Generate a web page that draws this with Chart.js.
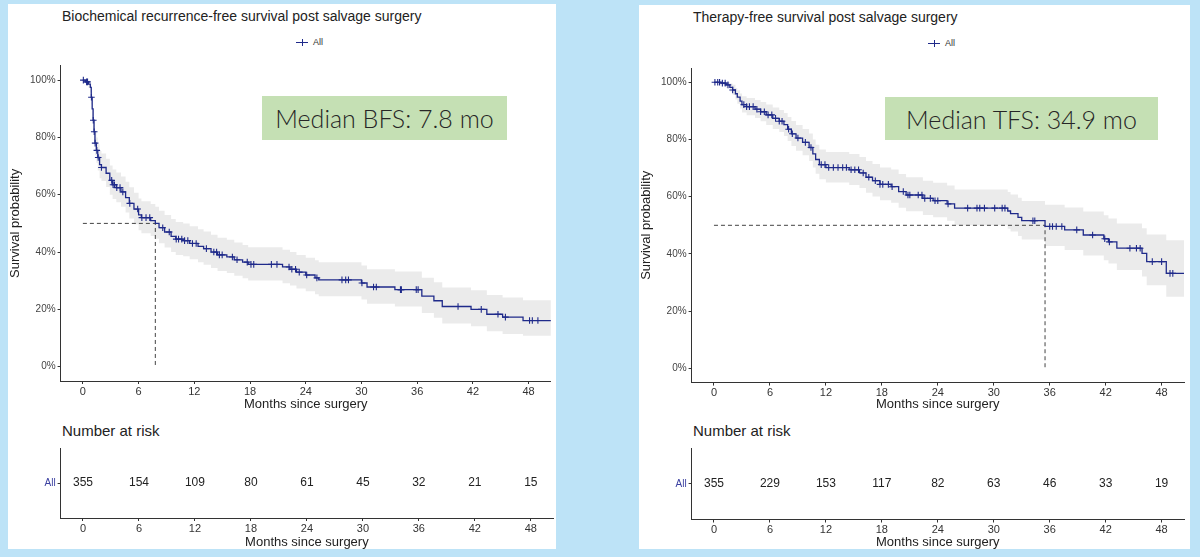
<!DOCTYPE html>
<html><head><meta charset="utf-8">
<script src="https://cdn.jsdelivr.net/npm/chart.js@4.4.0/dist/chart.umd.min.js"></script>
<style>
html,body{margin:0;padding:0;background:#bde3f7;width:1200px;height:557px;overflow:hidden;font-family:"Liberation Sans",Arial,sans-serif;}
.panel{position:absolute;background:#fff;}
.t{position:absolute;white-space:nowrap;line-height:1;transform:translateY(-50%);color:#222;}
.cv{position:absolute;}
.box{position:absolute;background:#c5e0b4;color:#262626;font-family:Lato,"Open Sans",sans-serif;font-weight:300;display:flex;align-items:center;justify-content:center;white-space:nowrap;}
.leg{position:absolute;transform:translateY(-50%);display:flex;align-items:center;font-size:9px;color:#333;}
.legicon{position:relative;width:12px;height:7px;margin-right:5px;}
.legicon:before{content:"";position:absolute;left:0;top:3px;width:12px;height:1.3px;background:#1f2a8a;}
.legicon:after{content:"";position:absolute;left:5.5px;top:0;width:1.2px;height:7px;background:#1f2a8a;}
</style></head><body>
<div class="panel" style="left:8px;top:4px;width:548px;height:545px;"></div>
<div class="panel" style="left:639px;top:5px;width:551px;height:544px;"></div>

<div class="t" style="left:62px;top:16px;font-size:14px;">Biochemical recurrence-free survival post salvage surgery</div>
<div class="t" style="left:693px;top:17px;font-size:14px;">Therapy-free survival post salvage surgery</div>
<div class="leg" style="left:296px;top:42px;"><span class="legicon"></span>All</div>
<div class="leg" style="left:928px;top:43px;"><span class="legicon"></span>All</div>

<canvas id="kmL" class="cv" style="left:8px;top:50px;" width="548" height="365"></canvas>
<canvas id="kmR" class="cv" style="left:639px;top:50px;" width="551" height="366"></canvas>
<canvas id="rkL" class="cv" style="left:8px;top:440px;" width="548" height="110"></canvas>
<canvas id="rkR" class="cv" style="left:639px;top:440px;" width="551" height="110"></canvas>

<div class="box" style="left:262px;top:96px;width:245px;height:44px;font-size:25px;">Median BFS: 7.8 mo</div>
<div class="box" style="left:885px;top:97px;width:273px;height:43px;font-size:25px;">Median TFS: 34.9 mo</div>

<div class="t" style="left:62px;top:430px;font-size:15px;">Number at risk</div>
<div class="t" style="left:693px;top:430px;font-size:15px;">Number at risk</div>

<script>
// ---------- data ----------
const xTicks = [0, 6, 12, 18, 24, 30, 36, 42, 48];
const yTicks = [0, 20, 40, 60, 80, 100];
const riskTimes = [0, 6, 12, 18, 24, 30, 36, 42, 48];

const bfsTimes = [0, 0.3, 0.6, 0.8, 0.9, 1.0, 1.1, 1.2, 1.3, 1.45, 1.6, 1.8, 2.0, 2.5, 2.9, 3.2, 3.6, 4.1, 4.6, 5.0, 5.5, 6.0, 6.3, 7.3, 7.8, 8.2, 8.8, 9.5, 10.0, 10.8, 11.5, 12.4, 13.0, 13.8, 14.5, 15.5, 16.3, 17.2, 17.8, 21.5, 22.3, 23.0, 24.0, 25.0, 25.4, 30.0, 30.6, 33.6, 36.5, 37.8, 38.7, 41.8, 43.5, 45.2, 47.4, 50.4];
const bfsSurv  = [100, 99.4, 98.6, 97.5, 94, 90, 86, 82, 78, 75.5, 73, 70.5, 69.5, 67.5, 65, 63.5, 62.5, 61, 59, 57, 55, 53, 52, 51, 50, 48.5, 47, 45.5, 44.5, 44, 43, 42, 41.2, 40, 39, 38.3, 37.3, 36.5, 35.7, 34.8, 34, 33, 32, 31, 30.3, 29.2, 27.8, 26.9, 24.6, 23, 21, 20, 18.3, 17.3, 16.1, 16.1];
const bfsLower = [100, 98.6, 97.3, 95.8, 91.5, 86.9, 82.5, 78.2, 73.9, 71.2, 68.5, 65.8, 64.8, 62.7, 60, 58.5, 57.4, 55.8, 53.8, 51.7, 49.7, 47.6, 46.6, 45.6, 44.6, 43.1, 41.6, 40, 39, 38.5, 37.5, 36.4, 35.6, 34.4, 33.4, 32.7, 31.7, 30.9, 30.1, 29.1, 28.3, 27.3, 26.3, 25.3, 24.6, 23.4, 22, 21, 18.7, 17.1, 15.1, 14.1, 12.4, 11.4, 10.8, 10.8];
const bfsUpper = [100, 100, 99.9, 99.2, 96.5, 93.2, 89.6, 86, 82.3, 80, 77.6, 75.3, 74.4, 72.6, 70.2, 68.8, 67.8, 66.4, 64.5, 62.6, 60.7, 58.7, 57.7, 56.8, 55.8, 54.4, 52.9, 51.5, 50.5, 50, 49, 48, 47.2, 46, 45, 44.3, 43.3, 42.5, 41.7, 40.8, 40, 39, 38, 37.1, 36.4, 35.3, 34, 33.2, 31, 29.5, 27.6, 26.7, 25, 24.1, 23.2, 23.2];
const bfsCensor = [0.05, 0.4, 0.5, 0.92, 1.12, 1.22, 1.32, 1.5, 1.65, 2.0, 3.1, 3.25, 3.4, 3.65, 4.0, 4.3, 5.05, 5.9, 6.35, 6.8, 7.2, 8.6, 9.3, 10.05, 10.3, 10.65, 10.95, 11.3, 11.8, 12.2, 13.3, 14.1, 14.4, 14.7, 15.0, 16.1, 16.6, 17.7, 18.1, 18.4, 20.3, 20.9, 22.2, 22.5, 22.9, 23.3, 24.1, 25.2, 27.9, 28.3, 28.6, 30.05, 31.3, 31.6, 34.2, 34.3, 35.9, 36.1, 40.4, 42.9, 44.7, 45.5, 48.1, 48.4, 49.0];
const bfsMedian = 7.8;
const bfsRisk = [355, 154, 109, 80, 61, 45, 32, 21, 15];

const tfsTimes = [0, 0.8, 1.3, 1.7, 2.0, 2.3, 2.5, 2.8, 3.0, 3.5, 4.4, 5.0, 5.6, 6.3, 7.0, 7.5, 7.9, 8.3, 8.8, 9.5, 10.2, 10.6, 10.9, 11.3, 12.0, 14.5, 15.6, 16.3, 17.0, 17.8, 19.0, 19.8, 20.6, 22.4, 23.5, 25.0, 25.8, 31.5, 31.8, 32.6, 33.0, 35.5, 37.6, 39.6, 41.8, 42.3, 43.2, 45.9, 46.4, 48.5, 50.4];
const tfsSurv  = [100, 99.7, 99.1, 98.2, 97.3, 96, 94.8, 93.4, 92.2, 91.5, 90.6, 89.7, 88.6, 87.4, 86.4, 85.2, 83.6, 82, 80.5, 79, 77.2, 75, 73, 71.2, 70.2, 69.4, 68.3, 66.8, 65.6, 64.3, 63.5, 61.8, 60.6, 59.4, 58.6, 57.5, 56, 55, 54.1, 52.8, 51.6, 49.6, 48.4, 46.6, 45.3, 44.2, 42, 40.2, 37.3, 33.2, 33.2];
const tfsLower = [100, 99.1, 98.1, 96.8, 95.6, 94, 92.5, 90.8, 89.4, 88.5, 87.5, 86.4, 85.1, 83.7, 82.6, 81.2, 79.5, 77.7, 76.1, 74.5, 72.5, 70.2, 68, 66.1, 65, 64.1, 63, 61.4, 60.1, 58.8, 57.9, 56.1, 54.9, 53.6, 52.8, 51.6, 50, 48.8, 47.8, 46.3, 45, 42.8, 41.4, 39.4, 37.8, 36.6, 34.4, 32.1, 29, 25, 25];
const tfsUpper = [100, 100, 100, 99.6, 99.1, 98, 97.2, 96.1, 95.1, 94.5, 93.8, 93.1, 92.2, 91.2, 90.3, 89.3, 87.9, 86.5, 85.1, 83.7, 82.1, 80, 78.2, 76.5, 75.6, 74.9, 73.9, 72.5, 71.4, 70.2, 69.5, 67.9, 66.8, 65.6, 64.9, 63.9, 62.5, 61.6, 60.8, 59.6, 58.5, 57.2, 56.2, 54.8, 53.5, 52.4, 50.6, 49, 46.8, 44.8, 44.8];
const tfsCensor = [0.1, 0.4, 0.6, 0.9, 1.2, 1.5, 2.0, 3.2, 3.5, 3.8, 4.2, 4.6, 5.0, 5.4, 5.8, 6.2, 6.6, 7.0, 7.3, 8.0, 8.4, 9.0, 9.8, 10.4, 11.5, 11.9, 12.3, 12.8, 13.3, 13.8, 14.2, 14.7, 15.1, 15.5, 16.0, 16.6, 17.3, 17.8, 18.1, 18.7, 19.1, 20.3, 20.8, 21.0, 21.9, 22.3, 22.6, 23.2, 23.7, 24.0, 25.1, 27.2, 28.2, 28.5, 29.0, 30.1, 30.9, 31.2, 34.2, 34.4, 36.0, 36.3, 36.7, 37.3, 38.9, 40.6, 41.9, 42.4, 44.6, 45.3, 45.7, 47.0, 48.0, 48.9, 49.2];
const tfsMedian = 35.5;
const tfsRisk = [355, 229, 153, 117, 82, 63, 46, 33, 19];

// ---------- styling ----------
const NAVY = '#1f2a8a';
const AXIS = '#333';
const FONT = "'Liberation Sans', Arial, sans-serif";
const X_MIN = -2.4, X_MAX = 50.4;

function stepAt(times, vals, t) {
  let v = vals[0];
  for (let i = 0; i < times.length; i++) { if (times[i] <= t) v = vals[i]; else break; }
  return v;
}
const pts = (xs, ys) => xs.map((x, i) => ({ x: x, y: ys[i] }));

function xScale(h, titlePadBottom) {
  return {
    type: 'linear', min: X_MIN, max: X_MAX,
    afterBuildTicks: s => { s.ticks = xTicks.map(v => ({ value: v })); },
    afterFit: s => { s.height = h; },
    grid: { drawOnChartArea: false, drawTicks: true, tickLength: 3, color: AXIS, lineWidth: 1 },
    border: { display: true, color: AXIS, width: 1 },
    ticks: { font: { size: 11, family: FONT }, color: '#333', padding: 1, maxRotation: 0, autoSkip: false },
    title: { display: true, text: 'Months since surgery', font: { size: 13, family: FONT }, color: '#222', padding: { top: 0, bottom: titlePadBottom } }
  };
}

function makeKM(id, times, surv, lower, upper, censor, median, pad, xh, tpb) {
  new Chart(document.getElementById(id), {
    type: 'line',
    data: { datasets: [
      { label: 'All', data: pts(times, surv), stepped: true, borderColor: NAVY, borderWidth: 1.3, pointRadius: 0, fill: false, order: 1 },
      { label: 'censor', data: censor.map(t => ({ x: t, y: stepAt(times, surv, t) })), showLine: false, pointStyle: 'cross', pointRadius: 3.3, pointBorderColor: NAVY, borderColor: NAVY, pointBorderWidth: 1.1, order: 0 },
      { label: 'median', data: [{ x: 0, y: 50 }, { x: median, y: 50 }, { x: median, y: 0 }], borderColor: '#444', borderWidth: 1, borderDash: [4, 3], pointRadius: 0, fill: false, order: 2 },
      { label: 'upper', data: pts(times, upper), stepped: true, borderColor: 'rgba(0,0,0,0)', borderWidth: 1, pointRadius: 0, fill: '+1', backgroundColor: '#ebebeb', order: 4 },
      { label: 'lower', data: pts(times, lower), stepped: true, borderColor: 'rgba(0,0,0,0)', borderWidth: 1, pointRadius: 0, fill: false, order: 5 }
    ]},
    options: {
      animation: false, responsive: false, events: [],
      layout: { padding: pad },
      plugins: { legend: { display: false }, tooltip: { enabled: false } },
      scales: {
        x: xScale(xh, tpb),
        y: {
          type: 'linear', min: -5, max: 105,
          afterBuildTicks: s => { s.ticks = yTicks.map(v => ({ value: v })); },
          afterFit: s => { s.width = 52.6; },
          grid: { drawOnChartArea: false, drawTicks: true, tickLength: 3, color: AXIS, lineWidth: 1 },
          border: { display: true, color: AXIS, width: 1 },
          ticks: { font: { size: 10, family: FONT }, color: '#444', padding: 2, callback: v => v + '%' },
          title: { display: true, text: 'Survival probability', font: { size: 13, family: FONT }, color: '#222', padding: { top: 0, bottom: 3 } }
        }
      }
    }
  });
}

const riskLabels = {
  id: 'riskLabels',
  afterDatasetsDraw(chart) {
    const ds = chart.data.datasets[0];
    const meta = chart.getDatasetMeta(0);
    const ctx = chart.ctx;
    ctx.save();
    ctx.font = '12px ' + FONT;
    ctx.fillStyle = '#222';
    ctx.textAlign = 'center';
    ctx.textBaseline = 'middle';
    meta.data.forEach((p, i) => ctx.fillText(String(ds.counts[i]), p.x, p.y));
    ctx.restore();
  }
};

function makeRisk(id, counts, pad, xh, tpb) {
  new Chart(document.getElementById(id), {
    type: 'line',
    data: { datasets: [{ label: 'All', counts: counts, data: riskTimes.map(t => ({ x: t, y: 'All' })), showLine: false, pointRadius: 0 }] },
    options: {
      animation: false, responsive: false, events: [],
      layout: { padding: pad },
      plugins: { legend: { display: false }, tooltip: { enabled: false } },
      scales: {
        x: xScale(xh, tpb),
        y: {
          type: 'category', labels: ['All'], offset: true,
          afterFit: s => { s.width = 52.6; },
          grid: { drawOnChartArea: false, drawTicks: true, tickLength: 3, color: AXIS, lineWidth: 1 },
          border: { display: true, color: AXIS, width: 1 },
          ticks: { font: { size: 10, family: FONT }, color: '#3a3fa0', padding: 2 }
        }
      }
    },
    plugins: [riskLabels]
  });
}

makeKM('kmL', bfsTimes, bfsSurv, bfsLower, bfsUpper, bfsCensor, bfsMedian, { top: 15.8, right: 2.8, left: 0, bottom: 0 }, 34, 3);
makeKM('kmR', tfsTimes, tfsSurv, tfsLower, tfsUpper, tfsCensor, tfsMedian, { top: 18, right: 6, left: 0, bottom: 0 }, 33.4, 4);
makeRisk('rkL', bfsRisk, { top: 5, right: 2.8, left: 0, bottom: 0 }, 32, 0);
makeRisk('rkR', tfsRisk, { top: 5, right: 6, left: 0, bottom: 0 }, 30.5, 0);
</script>
</body></html>
